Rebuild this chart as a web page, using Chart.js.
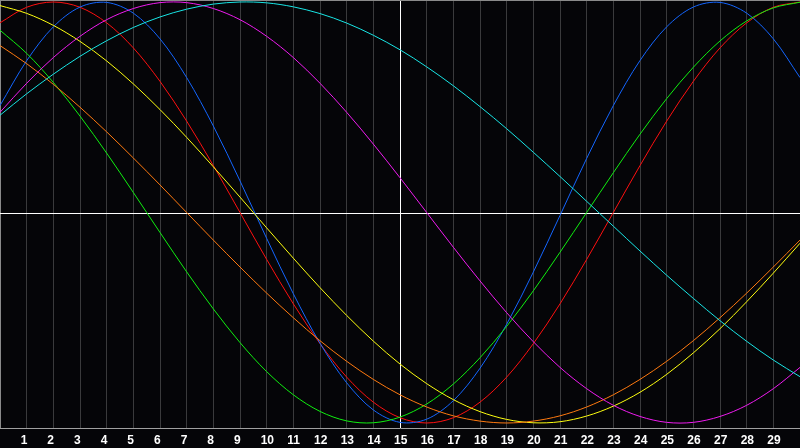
<!DOCTYPE html>
<html>
<head>
<meta charset="utf-8">
<script src="https://cdn.jsdelivr.net/npm/chart.js@4/dist/chart.umd.min.js"></script>
<style>
  html, body { margin: 0; padding: 0; background: #050508; }
  #chart { display: block; }
</style>
</head>
<body>
<canvas id="chart" width="800" height="448"></canvas>
<script>
// day numbers along the bottom, 0..30
const days = [0, 1, 2, 3, 4, 5, 6, 7, 8, 9, 10, 11, 12, 13, 14, 15, 16, 17, 18, 19, 20, 21, 22, 23, 24, 25, 26, 27, 28, 29, 30];

// curve values, one per day (-1 .. 1)
const redValues = [0.901, 0.975, 1, 0.975, 0.901, 0.782, 0.623, 0.434, 0.223, 0, -0.223, -0.434, -0.623, -0.782, -0.901, -0.975, -1, -0.975, -0.901, -0.782, -0.623, -0.434, -0.223, 0, 0.223, 0.434, 0.623, 0.782, 0.901, 0.975, 1];
const blueValues = [0.508, 0.721, 0.882, 0.976, 0.998, 0.947, 0.825, 0.641, 0.411, 0.150, -0.123, -0.386, -0.621, -0.809, -0.938, -0.997, -0.982, -0.894, -0.740, -0.531, -0.283, -0.014, 0.257, 0.508, 0.722, 0.882, 0.976, 0.998, 0.947, 0.825, 0.641];
const greenValues = [0.866, 0.756, 0.618, 0.458, 0.282, 0.095, -0.095, -0.282, -0.458, -0.618, -0.756, -0.866, -0.945, -0.990, -0.999, -0.972, -0.910, -0.815, -0.690, -0.541, -0.372, -0.189, 0, 0.189, 0.372, 0.541, 0.690, 0.815, 0.910, 0.972, 0.999];
const cyanValues = [0.462, 0.564, 0.657, 0.742, 0.816, 0.879, 0.929, 0.966, 0.990, 1, 0.996, 0.977, 0.945, 0.900, 0.842, 0.773, 0.692, 0.602, 0.503, 0.398, 0.286, 0.171, 0.053, -0.065, -0.183, -0.298, -0.408, -0.514, -0.612, -0.701, -0.780];
const magentaValues = [0.476, 0.614, 0.736, 0.837, 0.916, 0.969, 0.997, 0.997, 0.969, 0.916, 0.837, 0.736, 0.614, 0.476, 0.325, 0.165, 0, -0.165, -0.325, -0.476, -0.614, -0.736, -0.837, -0.916, -0.969, -0.997, -0.997, -0.969, -0.916, -0.837, -0.736];
const yellowValues = [0.983, 0.946, 0.889, 0.813, 0.720, 0.611, 0.489, 0.357, 0.217, 0.073, -0.073, -0.217, -0.357, -0.489, -0.611, -0.720, -0.813, -0.889, -0.946, -0.983, -0.999, -0.994, -0.967, -0.920, -0.854, -0.769, -0.667, -0.552, -0.424, -0.288, -0.146];
const orangeValues = [0.793, 0.707, 0.609, 0.5, 0.383, 0.259, 0.131, 0, -0.131, -0.259, -0.383, -0.5, -0.609, -0.707, -0.793, -0.866, -0.924, -0.966, -0.991, -1, -0.991, -0.966, -0.924, -0.866, -0.793, -0.707, -0.609, -0.5, -0.383, -0.259, -0.131];

const todayMark = 15;

function toPoints(values) {
    return values.map((v, i) => ({x: days[i], y: v}));
}

function curve(label, values, color) {
    return {
        label: label,
        data: toPoints(values),
        borderColor: color,
        borderWidth: 1,
        pointRadius: 0,
        pointHoverRadius: 0,
        tension: 0.33,
        fill: false
    };
}

// white cross lines and the top frame line, drawn under the curves
const crossLines = {
    id: 'crossLines',
    beforeDatasetsDraw(chart) {
        const {ctx, chartArea, scales} = chart;
        const y0 = Math.round(scales.y.getPixelForValue(0)) + 1.5;
        const x15 = Math.round(scales.x.getPixelForValue(todayMark)) + 0.5;
        ctx.save();
        ctx.lineWidth = 1;
        ctx.strokeStyle = '#ffffff';
        ctx.beginPath();
        ctx.moveTo(chartArea.left, y0);
        ctx.lineTo(chartArea.right, y0);
        ctx.moveTo(x15, chartArea.top);
        ctx.lineTo(x15, chartArea.bottom);
        ctx.stroke();
        ctx.strokeStyle = '#8a8a8a';
        ctx.beginPath();
        ctx.moveTo(chartArea.left, chartArea.top + 0.5);
        ctx.lineTo(chartArea.right, chartArea.top + 0.5);
        ctx.stroke();
        ctx.restore();
    }
};

let ctx = document.getElementById('chart').getContext('2d');
let bioChart = new Chart(ctx, {
    type: 'line',
    data: {
        datasets: [
            curve('cyan', cyanValues, '#19e6e6'),
            curve('magenta', magentaValues, '#f01cf0'),
            curve('orange', orangeValues, '#ff7a10'),
            curve('yellow', yellowValues, '#ffff10'),
            curve('green', greenValues, '#10f010'),
            curve('blue', blueValues, '#1466ff'),
            curve('red', redValues, '#ff1010')
        ]
    },
    plugins: [crossLines],
    options: {
        responsive: false,
        animation: false,
        layout: {autoPadding: false, padding: {left: 0, right: 0, top: 0, bottom: 0.6}},
        plugins: {
            legend: {display: false},
            tooltip: {enabled: false}
        },
        scales: {
            x: {
                type: 'linear',
                min: 0,
                max: 30,
                afterBuildTicks: (axis) => {
                    axis.ticks = days.map(d => ({value: d}));
                },
                ticks: {
                    autoSkip: false,
                    maxRotation: 0,
                    align: 'start',
                    labelOffset: -6,
                    padding: 0,
                    color: '#ffffff',
                    font: {family: 'Liberation Sans', size: 12, weight: 'bold'},
                    callback: (value) => (value === 0 || value === 30) ? '' : String(value)
                },
                grid: {
                    drawTicks: true,
                    tickLength: 5,
                    tickColor: 'rgba(0,0,0,0)',
                    lineWidth: 1,
                    color: (c) => c.tick && c.tick.value === 0 ? '#8a8a8a' : '#3a3a3c'
                },
                border: {display: true, color: '#a0a0a0', width: 1}
            },
            y: {
                display: false,
                min: -1.0238,
                max: 1.0095
            }
        }
    }
});
</script>
</body>
</html>
